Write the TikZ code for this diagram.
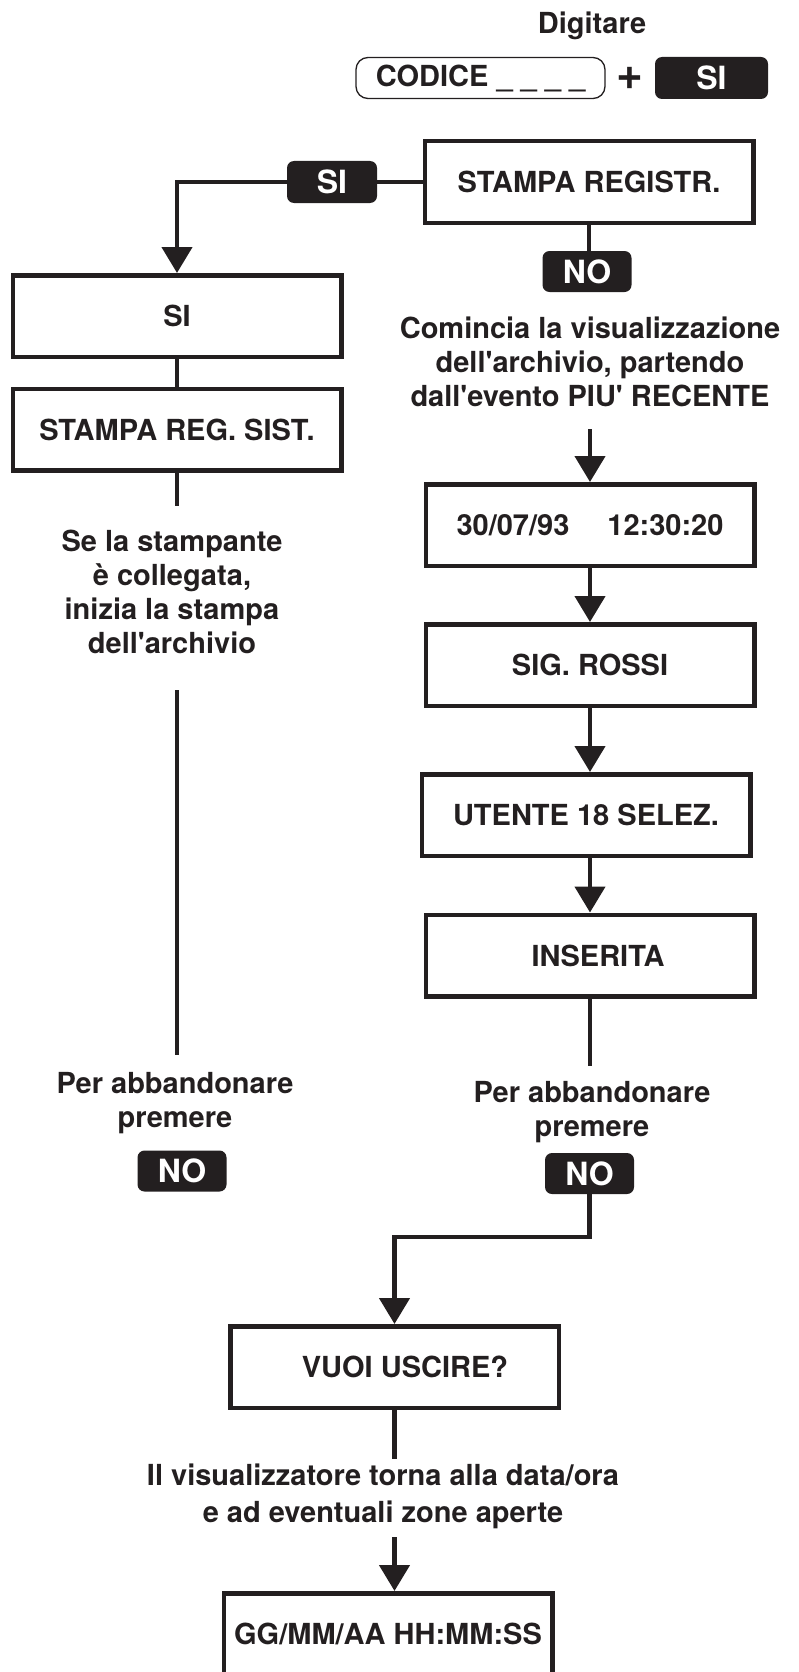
\documentclass[tikz,border=0pt]{standalone}
\usepackage{fontspec}
\setmainfont{TeX Gyre Heros}[Ligatures=TeXOff]
\usetikzlibrary{arrows.meta}
\definecolor{ink}{RGB}{35,31,32}

\begin{document}
\begin{tikzpicture}[x=1pt,y=-1pt,
    every node/.style={font=\fontsize{29}{34}\selectfont\bfseries, text=ink},
    box/.style={draw=ink, line width=4.5pt, minimum width=328.5pt, minimum height=81.5pt,
      inner sep=0pt, text height=21pt, text depth=0pt},
    key/.style={fill=ink, text=white, rounded corners=7pt, minimum width=89pt,
      minimum height=41pt, inner sep=0pt, text height=23pt, text depth=0pt,
      font=\fontsize{32}{34}\selectfont\bfseries},
    txt/.style={align=center, anchor=north, inner sep=0pt},
    line/.style={draw=ink, line width=4.5pt},
    arr/.style={line, -{Triangle[width=30pt,length=26pt]}}]
    \useasboundingbox (0,0) rectangle (798,1672);

    \node (digit) [txt] at (592,12) {Digitare};
    \node (code) [draw=ink, line width=1.3pt, rounded corners=12pt, minimum width=249pt,
      minimum height=41pt, inner sep=0pt, text height=19pt, text depth=2pt] at (480.5,78) {CODICE \_ \_ \_ \_};
    \node (plus) [font=\fontsize{46}{46}\selectfont\bfseries] at (630,78) {+};
    \node (topsi) [key, minimum width=113pt, minimum height=42pt] at (711.5,78) {SI};

    \node (prtreg) [box] at (589,182) {STAMPA REGISTR.};
    \node (sikey) [key, minimum width=90pt, minimum height=42pt] at (332,182) {SI};
    \node (si) [box] at (177,316) {SI};
    \node (regsist) [box] at (177,429.5) {STAMPA REG. SIST.};
    \node (prttxt) [txt] at (172,530) {Se la stampante\\è collegata,\\inizia la stampa\\dell'archivio};
    \node (quitL) [txt] at (175,1072) {Per abbandonare\\premere};
    \node (noL) [key] at (182,1171) {NO};

    \draw[line] (prtreg) -- (sikey);
    \draw[arr] (sikey) -| (si.north);
    \draw[line] (si) -- (regsist);
    \draw[line, shorten >=24pt] (regsist.south) -- (regsist.south |- prttxt.north);
    \draw[line, shorten <=36pt, shorten >=17pt] (regsist.south |- prttxt.south) -- (regsist.south |- quitL.north);

    \node (nokey) [key] at (587,271.5) {NO};
    \node (starttxt) [txt] at (590,317) {Comincia la visualizzazione\\dell'archivio, partendo\\dall'evento PIU' RECENTE};
    \node (datebox) [box] at (590,525) {30/07/93\hspace{38pt}12:30:20};
    \node (namebox) [box] at (590,665) {SIG. ROSSI};
    \node (userbox) [box] at (586,815) {UTENTE 18 SELEZ.};
    \node (insbox) [box] at (590,955.5) {\hspace{16pt}INSERITA};
    \node (quitR) [txt] at (592,1081) {Per abbandonare\\premere};
    \node (noR) [key] at (589.5,1173.5) {NO};

    \draw[line] (prtreg.south) -- (prtreg.south |- nokey.north);
    \draw[arr, shorten <=22pt] (datebox.north |- starttxt.south) -- (datebox.north);
    \draw[arr] (datebox) -- (namebox);
    \draw[arr] (namebox.south) -- (namebox.south |- userbox.north);
    \draw[arr] (namebox.south |- userbox.south) -- (insbox.north);
    \draw[line, shorten >=15pt] (insbox.south) -- (insbox.south |- quitR.north);

    \node (quit) [box] at (394.5,1367) {\hspace{21pt}VUOI USCIRE?};
    \node (backtxt) [txt, font=\fontsize{29}{37}\selectfont\bfseries] at (383,1464)
      {Il visualizzatore torna alla data/ora\\e ad eventuali zone aperte};
    \node (ggbox) [box] at (388,1634) {GG/MM/AA HH:MM:SS};
    \coordinate (bend) at (0,1237);

    \draw[arr] (noR.south) -- (noR.south |- bend) -| (quit.north);
    \draw[line, shorten >=5pt] (quit.south) -- (quit.south |- backtxt.north);
    \draw[arr, shorten <=8pt] (quit.south |- backtxt.south) -- (quit.south |- ggbox.north);
\end{tikzpicture}
\end{document}
